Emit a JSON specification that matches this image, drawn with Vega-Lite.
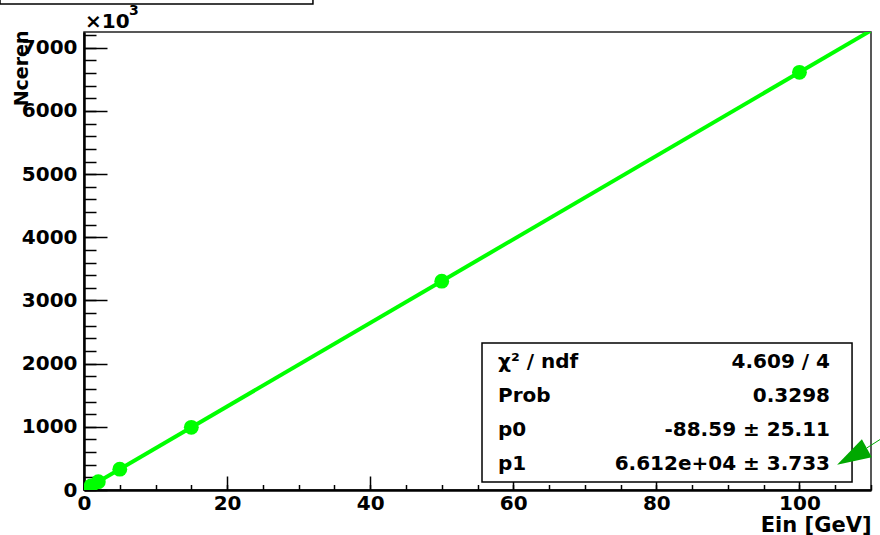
{
  "$schema": "https://vega.github.io/schema/vega-lite/v6.json",
  "width": 787,
  "height": 458,
  "autosize": {"type": "none"},
  "padding": {"left": 84, "top": 32, "right": 9, "bottom": 45},
  "background": "white",
  "config": {"view": {"stroke": "#222", "strokeWidth": 1.5}, "font": "DejaVu Sans"},
  "datasets": {
    "points": [
      {"E": 1, "N": 66},
      {"E": 2, "N": 132},
      {"E": 5, "N": 330},
      {"E": 15, "N": 992},
      {"E": 50, "N": 3306},
      {"E": 100, "N": 6612}
    ],
    "fit": [
      {"E": 0, "N": -0.09},
      {"E": 110, "N": 7273.1}
    ]
  },
  "layer": [
    {
      "data": {"name": "fit"},
      "mark": {"type": "line", "color": "#00ff00", "strokeWidth": 4, "clip": true},
      "encoding": {
        "x": {
          "field": "E", "type": "quantitative",
          "scale": {"domain": [0, 110], "nice": false, "zero": false},
          "axis": {
            "orient": "bottom", "values": [0, 20, 40, 60, 80, 100], "format": "d",
            "tickSize": -14, "tickWidth": 1.5, "tickColor": "black",
            "domainColor": "black", "domainWidth": 2.5,
            "labelFont": "DejaVu Sans", "labelFontWeight": "bold", "labelFontSize": 20, "labelColor": "black", "labelPadding": 17, "labelFlush": false,
            "grid": false,
            "title": "Ein [GeV]", "titleFont": "DejaVu Sans", "titleFontSize": 21, "titleFontWeight": "bold", "titleColor": "black",
            "titleX": 787, "titleY": 41, "titleAlign": "right", "titleBaseline": "alphabetic", "titleAnchor": "end"
          }
        },
        "y": {
          "field": "N", "type": "quantitative",
          "scale": {"domain": [0, 7250], "nice": false, "zero": false},
          "axis": {
            "orient": "left", "values": [0, 1000, 2000, 3000, 4000, 5000, 6000, 7000], "format": "d",
            "tickSize": -23, "tickWidth": 1.5, "tickColor": "black",
            "domainColor": "black", "domainWidth": 2.5,
            "labelFont": "DejaVu Sans", "labelFontWeight": "bold", "labelFontSize": 20, "labelColor": "black", "labelPadding": 30, "labelFlush": false,
            "grid": false,
            "title": "Nceren", "titleFont": "DejaVu Sans", "titleFontSize": 19, "titleFontWeight": "bold", "titleColor": "black",
            "titleX": -57, "titleY": -2, "titleAngle": -90, "titleAlign": "right", "titleBaseline": "alphabetic", "titleAnchor": "end"
          }
        }
      }
    },
    {
      "data": {"name": "points"},
      "mark": {"type": "circle", "color": "#00ff00", "size": 220, "opacity": 1, "clip": true},
      "encoding": {
        "x": {
          "field": "E", "type": "quantitative",
          "axis": {
            "orient": "bottom", "values": [0, 5, 10, 15, 20, 25, 30, 35, 40, 45, 50, 55, 60, 65, 70, 75, 80, 85, 90, 95, 100, 105, 110],
            "tickSize": -5.5, "tickWidth": 1.5, "tickColor": "black",
            "domain": false, "labels": false, "grid": false, "title": null
          }
        },
        "y": {
          "field": "N", "type": "quantitative",
          "axis": {
            "orient": "left", "values": [0, 200, 400, 600, 800, 1000, 1200, 1400, 1600, 1800, 2000, 2200, 2400, 2600, 2800, 3000, 3200, 3400, 3600, 3800, 4000, 4200, 4400, 4600, 4800, 5000, 5200, 5400, 5600, 5800, 6000, 6200, 6400, 6600, 6800, 7000, 7200],
            "tickSize": -12, "tickWidth": 1.5, "tickColor": "black",
            "domain": false, "labels": false, "grid": false, "title": null
          }
        }
      }
    },
    {
      "data": {"values": [{}]},
      "mark": {"type": "rect", "fill": "white", "stroke": "black", "strokeWidth": 1.5},
      "encoding": {
        "x": {"datum": 55.63, "type": "quantitative", "axis": null},
        "x2": {"datum": 107.35},
        "y": {"datum": 126.6, "type": "quantitative", "axis": null},
        "y2": {"datum": 2327}
      }
    },
    {
      "data": {"values": [{}]},
      "mark": {"type": "rect", "fill": "white", "stroke": "black", "strokeWidth": 1.5},
      "encoding": {
        "x": {"datum": -11.74, "type": "quantitative", "axis": null},
        "x2": {"datum": 32.0},
        "y": {"datum": 7693, "type": "quantitative", "axis": null},
        "y2": {"datum": 7850}
      }
    },
    {
      "data": {"values": [{}]},
      "mark": {"type": "text", "text": ["χ² / ndf", "Prob", "p0", "p1"], "lineHeight": 34.3, "align": "left", "baseline": "alphabetic", "font": "DejaVu Sans", "fontWeight": "bold", "fontSize": 20, "color": "black"},
      "encoding": {
        "x": {"datum": 57.87, "type": "quantitative", "axis": null},
        "y": {"datum": 1939, "type": "quantitative", "axis": null}
      }
    },
    {
      "data": {"values": [{}]},
      "mark": {"type": "text", "text": ["4.609 / 4", "0.3298", "-88.59 ± 25.11", "6.612e+04 ± 3.733"], "lineHeight": 34.3, "align": "right", "baseline": "alphabetic", "font": "DejaVu Sans", "fontWeight": "bold", "fontSize": 20, "color": "black"},
      "encoding": {
        "x": {"datum": 104.27, "type": "quantitative", "axis": null},
        "y": {"datum": 1939, "type": "quantitative", "axis": null}
      }
    },
    {
      "data": {"values": [{}]},
      "mark": {"type": "text", "text": "×10", "align": "left", "baseline": "alphabetic", "font": "DejaVu Sans", "fontWeight": "bold", "fontSize": 20, "color": "black"},
      "encoding": {
        "x": {"datum": 0.14, "type": "quantitative", "axis": null},
        "y": {"datum": 7313, "type": "quantitative", "axis": null}
      }
    },
    {
      "data": {"values": [{}]},
      "mark": {"type": "text", "text": "3", "align": "left", "baseline": "alphabetic", "font": "DejaVu Sans", "fontWeight": "bold", "fontSize": 14, "color": "black"},
      "encoding": {
        "x": {"datum": 6.3, "type": "quantitative", "axis": null},
        "y": {"datum": 7520, "type": "quantitative", "axis": null}
      }
    },
    {
      "data": {"values": [{}]},
      "mark": {"type": "rule", "color": "#00a800", "strokeWidth": 1},
      "encoding": {
        "x": {"datum": 109.4, "type": "quantitative", "axis": null},
        "y": {"datum": 665, "type": "quantitative", "axis": null},
        "x2": {"datum": 113.35},
        "y2": {"datum": 950}
      }
    },
    {
      "data": {"values": [{}]},
      "mark": {"type": "point", "shape": "M -1 0 L 1 -0.6 L 1 0.6 Z", "filled": true, "color": "#00a800", "size": 1156, "angle": -29, "opacity": 1, "strokeWidth": 0},
      "encoding": {
        "x": {"datum": 107.34, "type": "quantitative", "axis": null},
        "y": {"datum": 530, "type": "quantitative", "axis": null}
      }
    }
  ],
  "resolve": {"axis": {"x": "independent", "y": "independent"}}
}
